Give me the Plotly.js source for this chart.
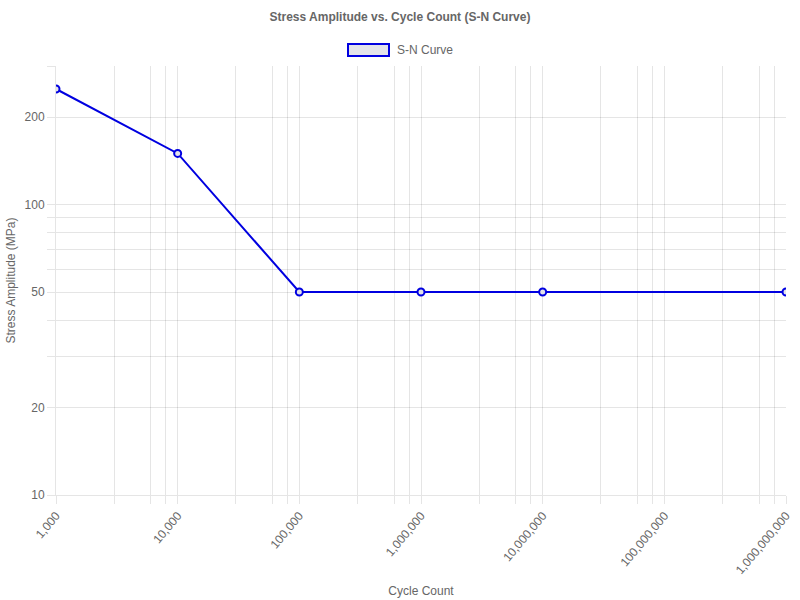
<!DOCTYPE html>
<html>
<head>
<meta charset="utf-8">
<script src="https://cdn.plot.ly/plotly-3.0.1.min.js"></script>
<style>
  html, body { margin: 0; padding: 0; background: #fff; }
  #chart { width: 800px; height: 600px; }
</style>
</head>
<body>
<div id="chart"></div>
<script>
const cycles = [1000, 10000, 100000, 1000000, 10000000, 1000000000];
const stress = [250, 150, 50, 50, 50, 50];

// grid lines as drawn in the reference, labels only on some of them
const xGrid = [1e3, 3e3, 6e3, 8e3, 1e4, 3e4, 6e4, 8e4, 1e5, 3e5, 6e5, 8e5, 1e6,
               3e6, 6e6, 8e6, 1e7, 3e7, 6e7, 8e7, 1e8, 3e8, 6e8, 8e8, 1e9];
const xLabeled = [1e3, 1e4, 1e5, 1e6, 1e7, 1e8, 1e9];
const yGrid = [10, 20, 30, 40, 50, 60, 70, 80, 90, 100, 200, 300];
const yLabeled = [10, 20, 50, 100, 200];

const fmt = v => Math.round(v).toString().replace(/\B(?=(\d{3})+(?!\d))/g, ",");

const gridColor = "rgba(0,0,0,0.1)";
const textColor = "#666";
const font = { family: "Liberation Sans, Arial, sans-serif", size: 12, color: textColor };

const trace = {
  x: cycles,
  y: stress,
  type: "scatter",
  mode: "lines+markers",
  line: { color: "#0000e0", width: 2 },
  marker: { symbol: "circle", size: 7, color: "#e3e3ea", line: { color: "#0000e0", width: 2 } },
  showlegend: false,
  hoverinfo: "x+y"
};

const layout = {
  width: 800,
  height: 600,
  margin: { l: 56, r: 14, t: 66, b: 105 },
  paper_bgcolor: "#fff",
  plot_bgcolor: "#fff",
  font: font,
  title: {
    text: "<b>Stress Amplitude vs. Cycle Count (S-N Curve)</b>",
    font: { family: font.family, size: 12, color: textColor },
    x: 0.5, xanchor: "center", y: 0.972, yanchor: "middle"
  },
  xaxis: {
    type: "log",
    range: [3, 9],
    tickvals: xGrid,
    ticktext: xGrid.map(v => xLabeled.includes(v) ? fmt(v) : ""),
    tickangle: -50,
    ticks: "outside",
    ticklen: 8,
    tickcolor: gridColor,
    showgrid: true,
    gridcolor: gridColor,
    gridwidth: 1,
    zeroline: false,
    showline: true,
    linecolor: gridColor,
    tickfont: { family: font.family, size: 12, color: textColor },
    title: { text: "Cycle Count", font: { family: font.family, size: 12, color: textColor }, standoff: 10 }
  },
  yaxis: {
    type: "log",
    range: [1, Math.log10(300)],
    tickvals: yGrid,
    ticktext: yGrid.map(v => yLabeled.includes(v) ? String(v) : ""),
    ticks: "outside",
    ticklen: 8,
    tickcolor: gridColor,
    showgrid: true,
    gridcolor: gridColor,
    gridwidth: 1,
    zeroline: false,
    showline: true,
    linecolor: gridColor,
    mirror: false,
    tickfont: { family: font.family, size: 12, color: textColor },
    title: { text: "Stress Amplitude (MPa)", font: { family: font.family, size: 12, color: textColor }, standoff: 6 }
  },
  shapes: [
    {
      type: "rect", xref: "paper", yref: "paper",
      x0: (348 - 56) / 730, x1: (389 - 56) / 730,
      y0: (495 - 56) / 429, y1: (495 - 44) / 429,
      fillcolor: "#e3e3ea",
      line: { color: "#0000e0", width: 2 }
    }
  ],
  annotations: [
    {
      text: "S-N Curve", xref: "paper", yref: "paper",
      x: (395 - 56) / 730, y: (495 - 50) / 429,
      xanchor: "left", yanchor: "middle", showarrow: false,
      font: { family: font.family, size: 12, color: textColor }
    }
  ]
};

Plotly.newPlot("chart", [trace], layout, { displayModeBar: false, staticPlot: true });
</script>
</body>
</html>
